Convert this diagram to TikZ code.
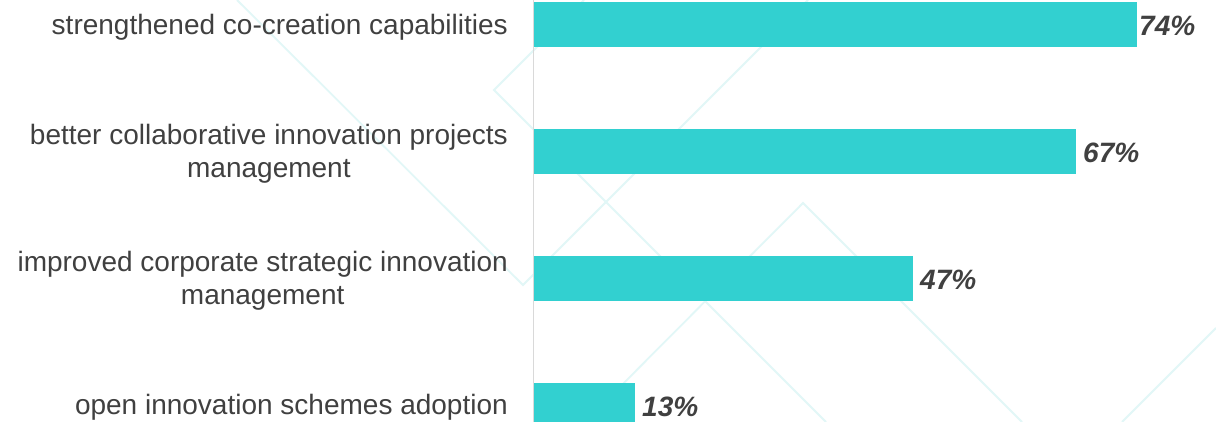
\documentclass[tikz,border=0pt]{standalone}
\usepackage{fontspec}
\setmainfont{Liberation Sans}
\definecolor{barteal}{HTML}{32D0D0}
\definecolor{txtgray}{HTML}{404040}
\definecolor{patcyan}{HTML}{E2F7F7}
\definecolor{axisgray}{HTML}{D9D9D9}
\begin{document}
\begin{tikzpicture}[x=1pt,y=-1pt,
  catlabel/.style={anchor=east, inner sep=0pt, align=center, text=txtgray,
    font=\fontsize{28}{33}\selectfont},
  pctlabel/.style={anchor=west, inner sep=0pt, text=txtgray,
    font=\fontsize{28}{33}\selectfont\bfseries\itshape},
  barrect/.style={fill=barteal, draw=none},
  patline/.style={draw=patcyan, line width=1.8pt, line join=miter},
  axisline/.style={draw=axisgray, line width=1pt}]
\useasboundingbox (0,0) rectangle (1216,422);
\fill[white] (0,0) rectangle (1216,422);
% background pattern
\begin{scope}
  \clip (0,0) rectangle (1216,422);
  \draw[patline] (237,0) -- (523,285) -- (808,0);
  \draw[patline] (584,0) -- (494,90) -- (826,422);
  \draw[patline] (585,422) -- (803,203) -- (1022,422);
  \draw[patline] (1122,422) -- (1216,328);
\end{scope}
% axis
\coordinate (axtop) at (533.5,0);
\coordinate (axbot) at (533.5,422);
\draw[axisline] (axtop) -- (axbot);
% bars
\fill[barteal] (534,2) rectangle (1137,47);
\fill[barteal] (534,129) rectangle (1076,174);
\fill[barteal] (534,256) rectangle (913,301);
\fill[barteal] (534,383) rectangle (635,422);
% category labels
\node[catlabel] (c1) at (508,27.5) {strengthened co-creation capabilities};
\node[catlabel] (c2) at (508,154) {better collaborative innovation projects\\management};
\node[catlabel] (c3) at (508,281) {improved corporate strategic innovation\\management};
\node[catlabel] (c4) at (508,407) {open innovation schemes adoption};
% value labels
\node[pctlabel] (p1) at (1139,25.5) {74\%};
\node[pctlabel] (p2) at (1083,152.5) {67\%};
\node[pctlabel] (p3) at (920,279.5) {47\%};
\node[pctlabel] (p4) at (642,406.5) {13\%};
\end{tikzpicture}
\end{document}
